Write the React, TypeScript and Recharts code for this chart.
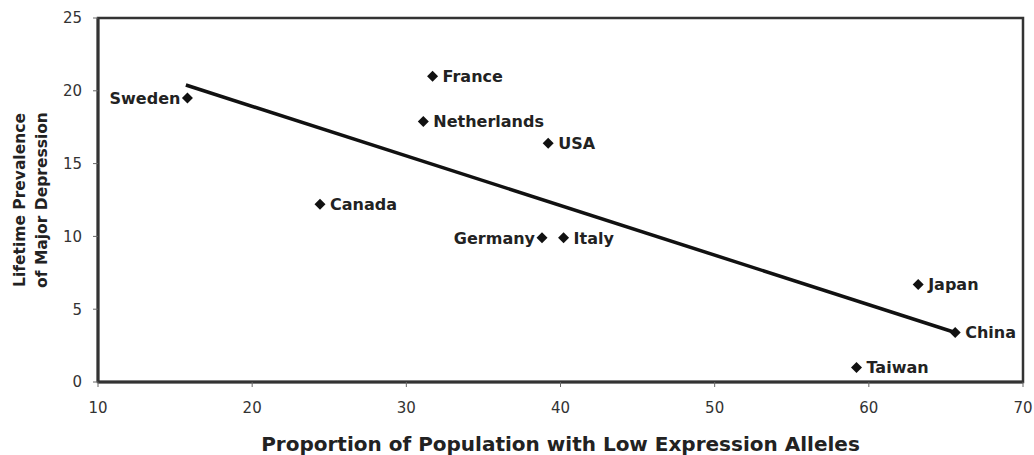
import * as React from "react"
import {
  ScatterChart,
  Scatter,
  XAxis,
  YAxis,
  ReferenceArea,
} from "recharts"

// values
const countries = [
  "Sweden",
  "France",
  "Netherlands",
  "USA",
  "Canada",
  "Germany",
  "Italy",
  "Japan",
  "China",
  "Taiwan",
]
const lowExpression = [15.8, 31.7, 31.1, 39.2, 24.4, 38.8, 40.2, 63.2, 65.6, 59.2]
const prevalence = [19.5, 21.0, 17.9, 16.4, 12.2, 9.9, 9.9, 6.7, 3.4, 1.0]

// fitted line, ends as drawn
const trendX = [15.7, 65.6]
const trendY = [20.4, 3.4]

const xTicks = [10, 20, 30, 40, 50, 60, 70]
const yTicks = [0, 5, 10, 15, 20, 25]

// labels drawn to the left of the marker
const leftLabeled = ["Sweden", "Germany"]

const points = countries.map((country, i) => ({
  country,
  x: lowExpression[i],
  y: prevalence[i],
}))
const trend = trendX.map((x, i) => ({ x, y: trendY[i] }))

const labelFont = "'DejaVu Sans', Verdana, sans-serif"

function CountryMarker(props: any) {
  const { cx, cy, payload } = props
  if (cx == null || cy == null) return <g />
  const left = leftLabeled.includes(payload.country)
  const s = 5.5
  return (
    <g>
      <polygon
        points={`${cx},${cy - s} ${cx + s},${cy} ${cx},${cy + s} ${cx - s},${cy}`}
        fill="#111"
      />
      <text
        x={left ? cx - 7 : cx + 10}
        y={cy}
        dy="0.36em"
        textAnchor={left ? "end" : "start"}
        fontFamily={labelFont}
        fontWeight="bold"
        fontSize={16}
        fill="#222"
      >
        {payload.country}
      </text>
    </g>
  )
}

function YTitle(props: any) {
  const { viewBox } = props
  const cy = viewBox.y + viewBox.height / 2
  const common = {
    fontFamily: labelFont,
    fontWeight: "bold" as const,
    fontSize: 15.5,
    fill: "#222",
    textAnchor: "middle" as const,
  }
  return (
    <g>
      <text {...common} transform={`translate(${viewBox.x + 19}, ${cy}) rotate(-90)`} dy="0.36em">
        Lifetime Prevalence
      </text>
      <text {...common} transform={`translate(${viewBox.x + 41}, ${cy}) rotate(-90)`} dy="0.36em">
        of Major Depression
      </text>
    </g>
  )
}

function XTitle(props: any) {
  const { viewBox } = props
  return (
    <text
      x={viewBox.x + viewBox.width / 2}
      y={viewBox.y + 69}
      textAnchor="middle"
      fontFamily={labelFont}
      fontWeight="bold"
      fontSize={20}
      fill="#222"
    >
      Proportion of Population with Low Expression Alleles
    </text>
  )
}

export default function App() {
  return (
    <div style={{ position: "absolute", left: 0, top: 0, background: "#fff" }}>
      <ScatterChart
        width={1034}
        height={455}
        margin={{ top: 18, right: 11, left: 0, bottom: 0 }}
      >
        <XAxis
          type="number"
          dataKey="x"
          domain={[10, 70]}
          ticks={xTicks}
          height={73}
          axisLine={{ stroke: "#333", strokeWidth: 3 }}
          tickLine={{ stroke: "#666" }}
          tickSize={5}
          tickMargin={15}
          tick={{ fill: "#333", fontSize: 15, fontFamily: labelFont }}
          label={{ content: XTitle }}
        />
        <YAxis
          type="number"
          dataKey="y"
          domain={[0, 25]}
          ticks={yTicks}
          width={98}
          axisLine={{ stroke: "#333", strokeWidth: 3 }}
          tickLine={{ stroke: "#666" }}
          tickSize={5}
          tickMargin={11}
          tick={{ fill: "#333", fontSize: 15, fontFamily: labelFont }}
          label={{ content: YTitle }}
        />
        <ReferenceArea
          x1={10}
          x2={70}
          y1={0}
          y2={25}
          fill="none"
          fillOpacity={0}
          stroke="#333"
          strokeWidth={2.5}
        />
        <Scatter
          data={trend}
          line={{ stroke: "#111", strokeWidth: 3.5 }}
          shape={() => <g />}
          isAnimationActive={false}
        />
        <Scatter data={points} shape={CountryMarker} isAnimationActive={false} />
      </ScatterChart>
    </div>
  )
}
